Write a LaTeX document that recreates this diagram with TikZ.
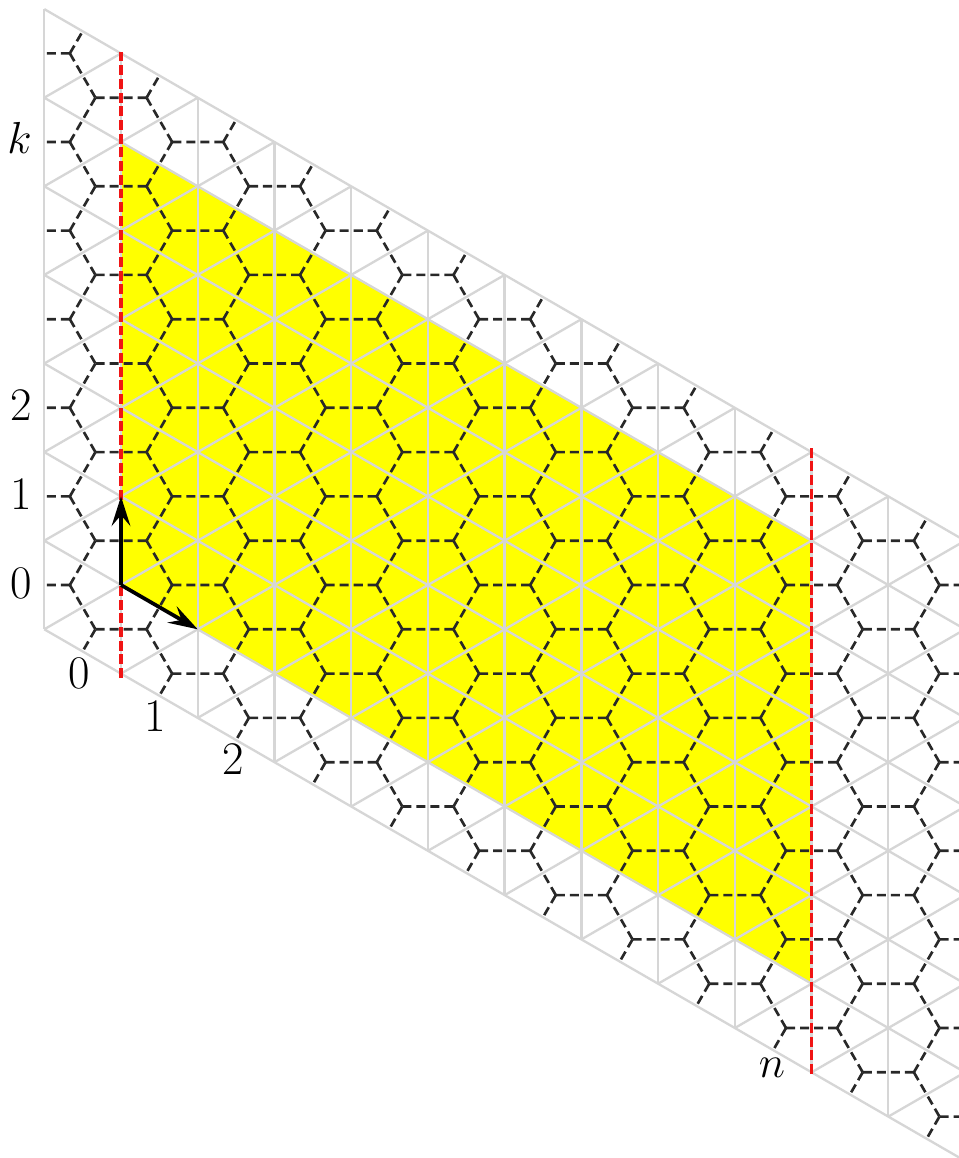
\documentclass[tikz,border=0pt]{standalone}
\usepackage{xcolor}
\definecolor{latgray}{RGB}{214,214,214}
\definecolor{honeygray}{RGB}{40,40,40}
\definecolor{cellyellow}{RGB}{255,255,0}
\definecolor{cutred}{RGB}{240,20,20}
\usetikzlibrary{arrows.meta}

\begin{document}
\begin{tikzpicture}[
  latline/.style={draw=latgray, line width=0.75pt},
  honeyedge/.style={draw=honeygray, line width=0.85pt, dash pattern=on 2.9pt off 1.6pt},
  cutline/.style={draw=cutred, line width=1.1pt, dash pattern=on 3.2pt off 1.2pt},
  basis/.style={-{Stealth[length=9.5pt,width=6pt,inset=3.5pt]}, line width=1.2pt},
  idx/.style={font=\fontsize{15}{17}\selectfont, inner sep=0pt}
]
  \useasboundingbox (-1.3657,-6.4673) rectangle (9.4582,6.6027);
  \begin{scope}[x={(0.8660254cm,-0.5cm)}, y={(0cm,1cm)}]
    \fill[cellyellow] (0,0) -- (9,0) -- (9,5) -- (0,5) -- cycle;
    \foreach \i in {-1,...,11}
      \draw[latline] (\i,-1) -- (\i,6);
    \foreach \j in {-1,...,6}
      \draw[latline] (-1,\j) -- (11,\j);
    \begin{scope}
      \clip (-1,-1) -- (11,-1) -- (11,6) -- (-1,6) -- cycle;
      \foreach \d in {-12,...,7}
        \draw[latline] (-1,\d-1) -- (11,\d+11);
      \foreach \i in {-2,...,11}
        \foreach \j in {-2,...,6} {
          \draw[honeyedge] (\i+1/3,\j+2/3) -- ++(-2/3,-1/3);
          \draw[honeyedge] (\i+1/3,\j+2/3) -- ++(1/3,-1/3);
          \draw[honeyedge] (\i+1/3,\j+2/3) -- ++(1/3,2/3);
        }
    \end{scope}
    \draw[cutline] (0,-1.05) -- (0,6.05);
    \draw[cutline] (9,-1.02) -- (9,6.06);
    \coordinate (o) at (0,0);
    \coordinate (a1) at (1,0);
    \coordinate (a2) at (0,1);
    \draw[basis] (o) -- (a2);
    \draw[basis] (o) -- (a1);
  \end{scope}
  \node[idx, anchor=base east] (row0) at (-1.0,-0.15) {0};
  \node[idx, anchor=base east] (row1) at (-1.0,0.85) {1};
  \node[idx, anchor=base east] (row2) at (-1.0,1.86) {2};
  \node[idx, anchor=base east] (rowk) at (-1.0,4.87) {$k$};
  \node[idx, anchor=base] (col0) at (-0.474,-1.163) {0};
  \node[idx, anchor=base] (col1) at (0.384,-1.659) {1};
  \node[idx, anchor=base] (col2) at (1.264,-2.144) {2};
  \node[idx, anchor=base] (coln) at (7.348,-5.553) {$n$};
\end{tikzpicture}
\end{document}
